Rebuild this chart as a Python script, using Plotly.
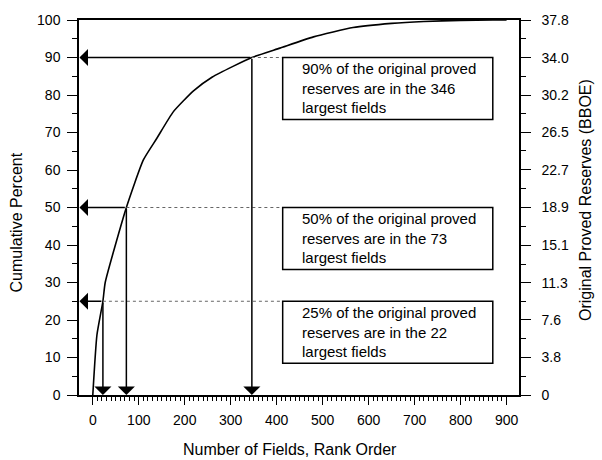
import plotly.graph_objects as go

# ---- data ----
fields = [0, 9, 22, 27, 73, 110, 139, 175, 219, 260, 306, 346, 407, 480, 566, 650, 720, 800, 870, 900]
cum_pct = [0, 16, 25, 30, 50, 62.7, 68.4, 75.5, 81.1, 84.8, 87.7, 90, 92.5, 95.5, 98.0, 99.1, 99.6, 99.9, 100, 100]

milestone_pct = [25, 50, 90]
milestone_fields = [22, 73, 346]
milestone_text = [
    "25% of the original proved<br>reserves are in the 22<br>largest fields",
    "50% of the original proved<br>reserves are in the 73<br>largest fields",
    "90% of the original proved<br>reserves are in the 346<br>largest fields",
]

x_ticks = [0, 100, 200, 300, 400, 500, 600, 700, 800, 900]
y_ticks = [0, 10, 20, 30, 40, 50, 60, 70, 80, 90, 100]
right_tick_labels = ["0", "3.8", "7.6", "11.3", "15.1", "18.9", "22.7", "26.5", "30.2", "34.0", "37.8"]
reserves_max = 37.8

# ---- layout constants ----
FONT = "Liberation Sans, Arial, sans-serif"
X_RANGE = [-30, 927]
BOX_X0, BOX_X1, BOX_H = 413, 870, 16.5

fig = go.Figure()

# curve
fig.add_trace(go.Scatter(x=fields, y=cum_pct, mode="lines",
                         line=dict(color="black", width=1.6, shape="spline", smoothing=0.5),
                         hoverinfo="skip"))

# dotted guide lines from curve to boxes
for n, p in zip(milestone_fields, milestone_pct):
    fig.add_trace(go.Scatter(x=[n, BOX_X0], y=[p, p], mode="lines",
                             line=dict(color="#666", width=1, dash="dot"), hoverinfo="skip"))

# invisible trace for secondary axis
fig.add_trace(go.Scatter(x=[None], y=[None], yaxis="y2", showlegend=False))

annotations = []
shapes = []
for n, p, t in zip(milestone_fields, milestone_pct, milestone_text):
    # horizontal arrow to left axis
    annotations.append(dict(x=X_RANGE[0] + 1, y=p, ax=n, ay=p, xref="x", yref="y",
                            axref="x", ayref="y", text="", showarrow=True,
                            arrowhead=1, arrowsize=1.9, arrowwidth=1.5, arrowcolor="black"))
    # vertical arrow to bottom axis
    annotations.append(dict(x=n, y=0, ax=n, ay=p, xref="x", yref="y",
                            axref="x", ayref="y", text="", showarrow=True,
                            arrowhead=1, arrowsize=1.9, arrowwidth=1.5, arrowcolor="black"))
    # box
    shapes.append(dict(type="rect", xref="x", yref="y", x0=BOX_X0, x1=BOX_X1,
                       y0=p - BOX_H, y1=p, line=dict(color="black", width=1.5)))
    annotations.append(dict(x=BOX_X0, y=p - BOX_H / 2, xref="x", yref="y", text=t,
                            showarrow=False, xanchor="left", yanchor="middle", align="left",
                            xshift=17, font=dict(family=FONT, size=15, color="black")))

# axis titles
annotations.append(dict(x=0.48, y=-0.145, xref="paper", yref="paper",
                        text="Number of Fields, Rank Order", showarrow=False,
                        xanchor="center", yanchor="middle",
                        font=dict(family=FONT, size=16, color="black")))
annotations.append(dict(x=-0.141, y=0.46, xref="paper", yref="paper",
                        text="Cumulative Percent", showarrow=False, textangle=-90,
                        xanchor="center", yanchor="middle",
                        font=dict(family=FONT, size=16, color="black")))
annotations.append(dict(x=1.15, y=0.52, xref="paper", yref="paper",
                        text="Original Proved Reserves (BBOE)", showarrow=False, textangle=-90,
                        xanchor="center", yanchor="middle",
                        font=dict(family=FONT, size=16, color="black")))

minor_x = [v for v in range(0, 901, 10) if v % 100]
right_vals = [float(s) for s in right_tick_labels]
right_minor = [(a + b) / 2 for a, b in zip(right_vals[:-1], right_vals[1:])]

fig.update_layout(
    width=602, height=460,
    margin=dict(l=79, r=83, t=15, b=65),
    paper_bgcolor="white", plot_bgcolor="white",
    showlegend=False,
    font=dict(family=FONT, size=14, color="black"),
    xaxis=dict(range=X_RANGE, showgrid=False, zeroline=False,
               showline=True, linecolor="black", linewidth=1.5, mirror=True,
               tickmode="array", tickvals=x_ticks, ticks="outside", ticklen=8,
               tickwidth=1, tickcolor="black", ticklabelstandoff=3,
               minor=dict(tickmode="array", tickvals=minor_x, ticks="outside",
                          ticklen=4, tickwidth=1, tickcolor="black", showgrid=False),
               tickfont=dict(family=FONT, size=14, color="black")),
    yaxis=dict(range=[0, 100], showgrid=False, zeroline=False,
               showline=True, linecolor="black", linewidth=1.5,
               tickmode="array", tickvals=y_ticks, ticks="outside", ticklen=10,
               tickwidth=1, tickcolor="black", ticklabelstandoff=4,
               minor=dict(dtick=5, ticks="outside", ticklen=5, tickwidth=1,
                          tickcolor="black", showgrid=False),
               tickfont=dict(family=FONT, size=14, color="black")),
    yaxis2=dict(range=[0, reserves_max], overlaying="y", side="right",
                showgrid=False, zeroline=False,
                showline=True, linecolor="black", linewidth=1.5,
                tickmode="array", tickvals=right_vals, ticktext=right_tick_labels,
                ticks="outside", ticklen=10, tickwidth=1, tickcolor="black",
                ticklabelstandoff=8,
                minor=dict(tickmode="array", tickvals=right_minor, ticks="outside",
                           ticklen=5, tickwidth=1, tickcolor="black", showgrid=False),
                tickfont=dict(family=FONT, size=14, color="black")),
    annotations=annotations,
    shapes=shapes,
)

fig.write_html("out.html")
